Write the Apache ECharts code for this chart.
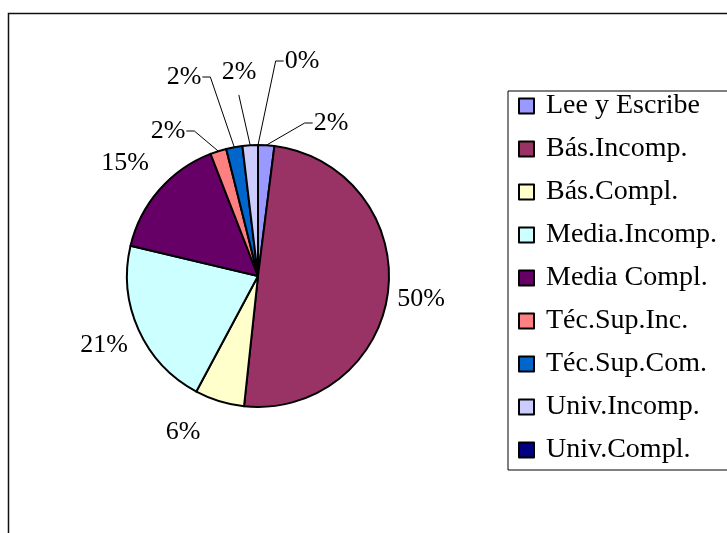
<!DOCTYPE html>
<html>
<head>
<meta charset="utf-8">
<script src="https://cdn.jsdelivr.net/npm/echarts@6/dist/echarts.min.js"></script>
<style>
html,body{margin:0;padding:0;background:#fff;}
#chart{width:727px;height:533px;}
</style>
</head>
<body>
<div id="chart"></div>
<script>
// ---- data ----
const categories = ['Lee y Escribe','Bás.Incomp.','Bás.Compl.','Media.Incomp.','Media Compl.','Téc.Sup.Inc.','Téc.Sup.Com.','Univ.Incomp.','Univ.Compl.'];
const values = [2.0, 49.7, 6.1, 20.9, 15.4, 2.0, 2.0, 1.9, 0];

// ---- styles / layout (kept apart from data) ----
const colors = ['#9999FF','#993366','#FFFFCC','#CCFFFF','#660066','#FF8080','#0066CC','#CCCCFF','#000080'];
const labelPos = [[331,123],[421,299],[183,432],[104,345],[125,163],[168,131],[184,77],[239,72],[302,61]];
const labelSide = ['left',null,null,null,null,'right','right','bottom','left'];
const LABEL_FONT = 26;

const measureCtx = document.createElement('canvas').getContext('2d');
measureCtx.font = LABEL_FONT + 'px "Liberation Serif"';

const chart = echarts.init(document.getElementById('chart'));
const data = categories.map((c,i)=>({
  name: c,
  value: values[i],
  itemStyle: {color: colors[i]},
  labelLine: {show: labelSide[i] !== null}
}));

chart.setOption({
  animation: false,
  backgroundColor: '#fff',
  graphic: [{
    type: 'rect', silent: true,
    shape: {x: 8.5, y: 13.5, width: 900, height: 700},
    style: {fill: 'none', stroke: '#111', lineWidth: 1.5}
  }],
  legend: {
    orient: 'vertical',
    left: 508, top: 91,
    padding: [1, 40, 6, 10],
    borderColor: '#000', borderWidth: 1,
    backgroundColor: '#fff',
    itemWidth: 15, itemHeight: 15, itemGap: 15,
    icon: 'rect',
    itemStyle: {borderColor: '#000', borderWidth: 2},
    textStyle: {fontFamily: 'Liberation Serif', fontSize: 28, color: '#000', padding: [0,0,0,7]},
    data: categories
  },
  series: [{
    type: 'pie',
    center: [258, 276],
    radius: 131,
    startAngle: 90,
    clockwise: true,
    avoidLabelOverlap: false,
    itemStyle: {borderColor: '#000', borderWidth: 2},
    label: {
      show: true, position: 'outside',
      fontFamily: 'Liberation Serif', fontSize: LABEL_FONT, color: '#000',
      formatter: p => Math.round(p.percent) + '%'
    },
    labelLine: {length: 10, length2: 8, lineStyle: {color: '#000', width: 1}},
    emphasis: {disabled: true},
    labelLayout: function (p) {
      const i = p.dataIndex;
      const cx = labelPos[i][0], cy = labelPos[i][1];
      const res = {x: cx, y: cy, align: 'center', verticalAlign: 'middle'};
      const side = labelSide[i];
      if (side && p.labelLinePoints) {
        const w = measureCtx.measureText(p.text || '0%').width;
        const a = p.labelLinePoints[0];
        let end, mid;
        if (side === 'left') { end = [cx - w/2 - 1, cy]; mid = [end[0] - 8, cy]; }
        else if (side === 'right') { end = [cx + w/2 + 1, cy]; mid = [end[0] + 8, cy]; }
        else { end = [cx, cy + LABEL_FONT * 0.88]; mid = [cx, cy + LABEL_FONT * 0.88 + 1]; }
        res.labelLinePoints = [a, mid, end];
      }
      return res;
    },
    data: data
  }]
});
</script>
</body>
</html>
